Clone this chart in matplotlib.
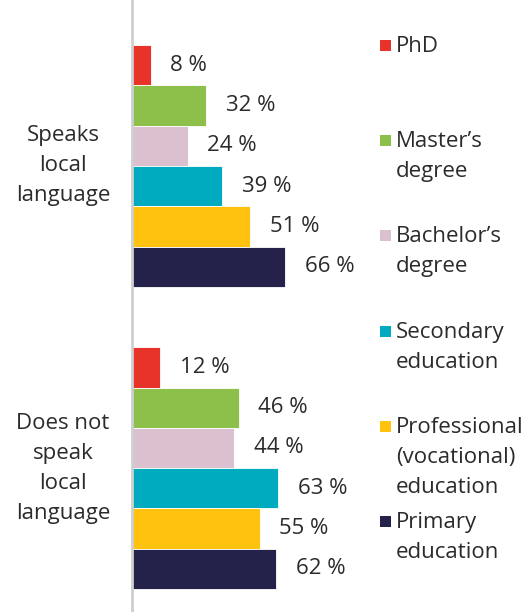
import numpy as np
import matplotlib.pyplot as plt
import matplotlib.transforms as mtransforms
from matplotlib.patches import Rectangle

plt.rcParams['font.family'] = ['Open Sans', 'DejaVu Sans']

groups = ['Speaks\nlocal\nlanguage', 'Does not\nspeak\nlocal\nlanguage']
levels = ['PhD', 'Master\u2019s\ndegree', 'Bachelor\u2019s\ndegree',
          'Secondary\neducation', 'Professional\n(vocational)\neducation',
          'Primary\neducation']
speaks = [8, 32, 24, 39, 51, 66]
not_speaks = [12, 46, 44, 63, 55, 62]
colors = ['#E8332B', '#8DC04B', '#DBC1CF', '#00AABF', '#FFC20E', '#24224A']

fig = plt.figure(figsize=(5.28, 6.12), dpi=100)
ax = fig.add_axes([132 / 528, 0, 228 / 528, 1])

text_col = '#2b2b2b'
fs = 16
gap = 1.5
for g, vals in enumerate([speaks, not_speaks]):
    y0 = g * (len(levels) + gap)
    ys = y0 + np.arange(len(levels))
    ax.barh(ys, vals, height=1.0, color=colors, edgecolor='white', linewidth=0.6)
    for y, v in zip(ys, vals):
        ax.text(v + 8.5, y, f'{v} %', va='center', ha='left',
                fontsize=fs, color=text_col)
    # group label to the left of axis
    trans = mtransforms.blended_transform_factory(fig.transFigure, ax.transData)
    ax.text(63 / 528, ys.mean(), groups[g], transform=trans, ha='center',
            va='center', fontsize=fs, color=text_col, linespacing=1.56)

ax.set_xlim(0, 228 / 2.32)
ax.set_ylim(13.57, -1.617)
for s in ['top', 'right', 'bottom']:
    ax.spines[s].set_visible(False)
ax.spines['left'].set_color('#cfcfcf')
ax.spines['left'].set_linewidth(2)
ax.set_xticks([])
ax.set_yticks([])
ax.patch.set_alpha(0)

# legend on the right
for i, (lab, c) in enumerate(zip(levels, colors)):
    ymid = 1 - (46 + i * 95.2) / 612
    fig.patches.append(Rectangle((380 / 528, ymid - 5 / 612), 11 / 528, 11 / 612,
                                 transform=fig.transFigure, facecolor=c,
                                 edgecolor='none'))
    fig.text(396 / 528, ymid + 10 / 612, lab, ha='left', va='top', fontsize=fs,
             color=text_col, linespacing=1.56)

fig.savefig('out.png', dpi=100)
